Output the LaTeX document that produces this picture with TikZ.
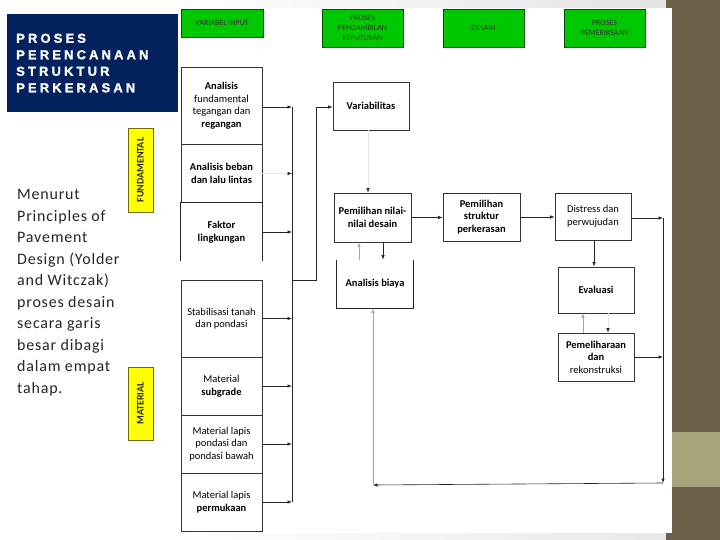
\documentclass[tikz,border=0pt]{standalone}
\usepackage{fontspec}
\setmainfont{Carlito}
\newfontfamily\titlefont{Liberation Sans}[LetterSpace=24, BoldFeatures={FakeBold=1.5}]
\newfontfamily\bodyfont{Carlito}[LetterSpace=5]
\usetikzlibrary{arrows.meta}
\definecolor{navy}{RGB}{4,34,94}
\definecolor{gfill}{RGB}{0,200,0}
\definecolor{gborder}{RGB}{0,80,0}
\definecolor{yfill}{RGB}{255,255,0}
\definecolor{yborder}{RGB}{110,110,0}
\definecolor{olive}{RGB}{107,97,72}
\definecolor{olivelight}{RGB}{168,165,126}
\tikzset{
  greenbox/.style={draw=gborder, fill=gfill, line width=0.8pt, align=center, inner sep=0pt,
    text=black!80, font=\fontsize{8}{10}\selectfont},
  boxx/.style={draw=black!80, line width=0.6pt, fill=white, align=center, inner sep=0pt,
    font=\fontsize{10.5}{12.5}\selectfont\bfseries},
  openbox/.style={boxx, draw=none},
  ybox/.style={draw=yborder, fill=yfill, line width=0.6pt, inner sep=0pt, rotate=90,
    text=black!85, font=\fontsize{10}{12}\selectfont\bfseries},
  arr/.style={-{Latex[length=4.5pt,width=3.4pt]}, line width=0.6pt, draw=black!85},
  garr/.style={arr, draw=gray!70},
  faint/.style={-{Latex[length=4.5pt,width=3.4pt,color=black!85]}, line width=0.5pt, draw=gray!20},
  line/.style={line width=0.6pt, draw=black!85}
}
\begin{document}
\begin{tikzpicture}[x=1pt,y=-1pt]
\useasboundingbox (0,0) rectangle (720,540);
\fill[white] (0,0) rectangle (720,540);
% background strips
\shade[left color=white, right color=gray!22] (178,0) rectangle (666,8);
\shade[left color=white, right color=gray!18] (178,533) rectangle (666,540);
\fill[olive] (672,0) rectangle (720,540);
\fill[olive] (666,0) rectangle (672,8);
\fill[olive] (666,533) rectangle (672,540);
\fill[olivelight] (672,432) rectangle (720,487);

% title
\fill[navy] (7,14) rectangle (178,112);
\node[anchor=north west, align=left, inner sep=0pt, text=white,
  font=\titlefont\bfseries\fontsize{13}{16.5}\selectfont] (title) at (16,33.5)
  {PROSES\\PERENCANAAN\\STRUKTUR\\PERKERASAN};

% left paragraph
\node[anchor=north west, align=left, inner sep=0pt, text=black!85,
  font=\bodyfont\fontsize{16}{21.5}\selectfont] (para) at (17,189.5)
  {Menurut\\Principles of\\Pavement\\Design (Yolder\\and Witczak)\\proses desain\\secara garis\\besar dibagi\\dalam empat\\tahap.};

% yellow labels
\node[ybox, minimum width=84, minimum height=25] (fund) at (140.5,170) {FUNDAMENTAL};
\node[ybox, minimum width=73, minimum height=25] (mat) at (140.5,403.5) {MATERIAL};

% green headers
\node[greenbox, minimum width=82, minimum height=28] (vin) at (222,23) {VARIABEL INPUT};
\node[greenbox, minimum width=81, minimum height=38] (pk) at (362.5,28) {PROSES\\PENGAMBILAN\\KEPUTUSAN};
\node[greenbox, minimum width=81, minimum height=38] (des) at (483.5,28) {DESAIN};
\node[greenbox, minimum width=81, minimum height=38] (pem) at (604.5,28) {PROSES\\PEMERIKSAAN};

% input column
\node[boxx, minimum width=81, minimum height=77] (a1) at (221.5,105.5) {Analisis\\\mdseries fundamental\\\mdseries tegangan dan\\regangan};
\node[boxx, minimum width=81, minimum height=59] (a2) at (221.5,173.5) {Analisis beban\\dan lalu lintas};
\node[openbox, minimum width=81, minimum height=58] (a3) at (221.5,232) {Faktor\\lingkungan};
\draw[line] (a3.south west) -- (a3.north west) -- (a3.north east) -- (a3.south east);
\node[boxx, minimum width=81, minimum height=77] (m1) at (221.5,318.5) {\mdseries Stabilisasi tanah\\\mdseries dan pondasi};
\node[boxx, minimum width=81, minimum height=58] (m2) at (221.5,386) {\mdseries Material\\subgrade};
\node[boxx, minimum width=81, minimum height=58] (m3) at (221.5,444) {\mdseries Material lapis\\\mdseries pondasi dan\\\mdseries pondasi bawah};
\node[boxx, minimum width=81, minimum height=58] (m4) at (221.5,502) {\mdseries Material lapis\\permukaan};

% decision / design / check boxes
\node[boxx, minimum width=76, minimum height=48] (var) at (371,106) {Variabilitas};
\node[boxx, minimum width=77, minimum height=49] (pnd) at (372.5,217.5) {Pemilihan nilai-\\nilai desain};
\node[openbox, minimum width=76, minimum height=48] (ab) at (375,284) {Analisis biaya};
\draw[line] (ab.north west) -- (ab.south west) -- (ab.south east) -- (ab.north east);
\node[boxx, minimum width=77, minimum height=48] (ps) at (481.5,217) {Pemilihan\\struktur\\perkerasan};
\node[boxx, minimum width=76, minimum height=47] (ds) at (593,216.5) {\mdseries Distress dan\\\mdseries perwujudan};
\node[boxx, minimum width=76, minimum height=46] (ev) at (596,290) {Evaluasi};
\node[boxx, minimum width=76, minimum height=48] (pr) at (596,357) {Pemeliharaan\\dan\\\mdseries rekonstruksi};

% bus on the left
\coordinate (busT) at (292,107);
\coordinate (busB) at (292,502);
\draw[line] (busT) -- (busB);
\draw[arr] (a1.east |- busT) -- (busT);
\draw[faint] (a2.east) -- (a2.east -| busT);
\draw[arr] (a3.east) -- (a3.east -| busT);
\draw[arr] (m1.east) -- (m1.east -| busT);
\draw[arr] (m2.east) -- (m2.east -| busT);
\draw[arr] (m3.east) -- (m3.east -| busT);
\draw[arr] (m4.east) -- (m4.east -| busT);
\coordinate (j1) at (292,280);
\coordinate (j2) at (316,280);
\draw[arr] (j1) -- (j2) |- ([yshift=-1]var.west);

% middle connectors
\draw[faint] ([xshift=-3]var.south) -- ([xshift=-3]var.south |- pnd.north);
\draw[garr] ([xshift=-16]ab.north) -- ([xshift=-16]ab.north |- pnd.south);
\draw[arr] ([xshift=10.5]pnd.south) -- ([xshift=10.5]pnd.south |- ab.north);
\draw[arr] (pnd.east) -- (pnd.east -| ps.west);
\draw[arr] (ps.east) -- (ps.east -| ds.west);

% right loop
\coordinate (rt) at (663,218);
\coordinate (rb) at (663,483);
\coordinate (lb) at (373,485);
\draw[arr] (ds.east |- rt) -- (rt);
\draw[arr] (rt) -- (rb);
\draw[arr] (rb) -- (lb);
\draw[garr] (lb) -- (lb |- ab.south);
\draw[arr] ([xshift=1]ds.south) -- ([xshift=1]ds.south |- ev.north);
\draw[garr] ([xshift=-13]pr.north) -- ([xshift=-13]ev.south);
\draw[faint] ([xshift=12]ev.south) -- ([xshift=12]pr.north);
\draw[arr] (pr.east) -- (pr.east -| rt);
\end{tikzpicture}
\end{document}
